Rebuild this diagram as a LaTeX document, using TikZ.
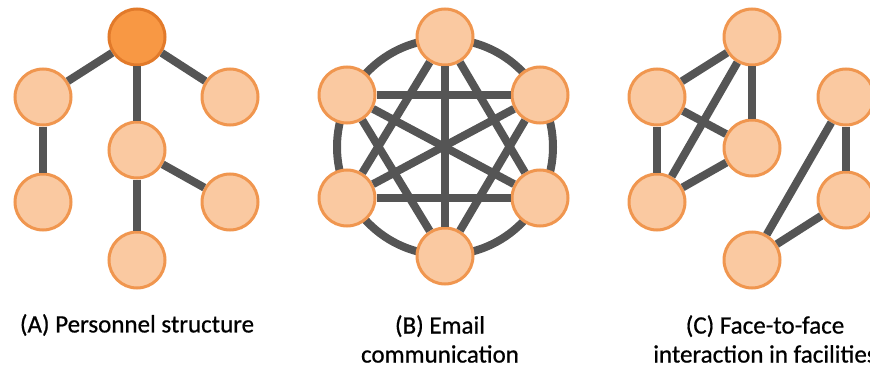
\documentclass[tikz,border=0pt]{standalone}
\usepackage{fontspec}
\setmainfont{Carlito}
\newfontfamily\capfont{Carlito}[FakeBold=0.7]
\usetikzlibrary{positioning}
\definecolor{peachfill}{HTML}{FAC9A1}
\definecolor{peachline}{HTML}{F0964F}
\definecolor{headfill}{HTML}{F89844}
\definecolor{headline}{HTML}{E27A2A}
\definecolor{tiegray}{HTML}{555555}
\tikzset{
  person/.style={circle, draw=peachline, fill=peachfill, line width=3pt, minimum size=56pt, inner sep=0pt},
  head/.style={person, draw=headline, fill=headfill},
  tie/.style={draw=tiegray, line width=8pt},
  caption/.style={align=center, font=\capfont\fontsize{25}{29}\selectfont, inner sep=0pt}
}
\begin{document}
\begin{tikzpicture}[x=1pt, y=-1pt]
      \useasboundingbox (0, 0) rectangle (870, 369);
      \clip (0, 0) rectangle (870, 369);

      % (A) personnel structure
      \node[head] (root) at (137, 37) {};
      \node[person] (a1) at (43, 97) {};
      \node[person] (a2) at (230, 97) {};
      \node[person] (a3) at (137, 150) {};
      \node[person] (a4) at (43, 202) {};
      \node[person] (a5) at (230, 202) {};
      \node[person] (a6) at (137, 260) {};

      \draw[tie] (root) -- (a1);
      \draw[tie] (root) -- (a2);
      \draw[tie] (root) -- (a3);
      \draw[tie] (a1) -- (a4);
      \draw[tie] (a3) -- (a5);
      \draw[tie] (a3) -- (a6);

      % (B) email communication
      \coordinate (hub) at (445, 147);
      \draw[tie] (hub) circle (108);

      \node[person] (b1) at (445, 37) {};
      \node[person] (b2) at (347, 95) {};
      \node[person] (b3) at (347, 198) {};
      \node[person] (b4) at (445, 256) {};
      \node[person] (b5) at (540, 198) {};
      \node[person] (b6) at (540, 95) {};

      \draw[tie] (b1) -- (b3);
      \draw[tie] (b1) -- (b4);
      \draw[tie] (b1) -- (b5);
      \draw[tie] (b2) -- (b4);
      \draw[tie] (b2) -- (b5);
      \draw[tie] (b2) -- (b6);
      \draw[tie] (b3) -- (b5);
      \draw[tie] (b3) -- (b6);
      \draw[tie] (b4) -- (b6);

      % (C) face-to-face
      \node[person] (c1) at (752, 37) {};
      \node[person] (c2) at (657, 97) {};
      \node[person] (c3) at (752, 148) {};
      \node[person] (c4) at (657, 202) {};
      \node[person] (c5) at (846, 97) {};
      \node[person] (c6) at (846, 200) {};
      \node[person] (c7) at (752, 260) {};

      \draw[tie] (c1) -- (c2);
      \draw[tie] (c1) -- (c3);
      \draw[tie] (c1) -- (c4);
      \draw[tie] (c2) -- (c3);
      \draw[tie] (c2) -- (c4);
      \draw[tie] (c4) -- (c3);
      \draw[tie] (c5) -- (c6);
      \draw[tie] (c5) -- (c7);
      \draw[tie] (c6) -- (c7);

      \node[caption] (capa) at (137, 325) {(A) Personnel structure};
      \node[caption] (capb) at (440, 339) {(B) Email\\communication};
      \node[caption] (capc) at (765, 339) {(C) Face-to-face\\interaction in facilities};
    \end{tikzpicture}
\end{document}
